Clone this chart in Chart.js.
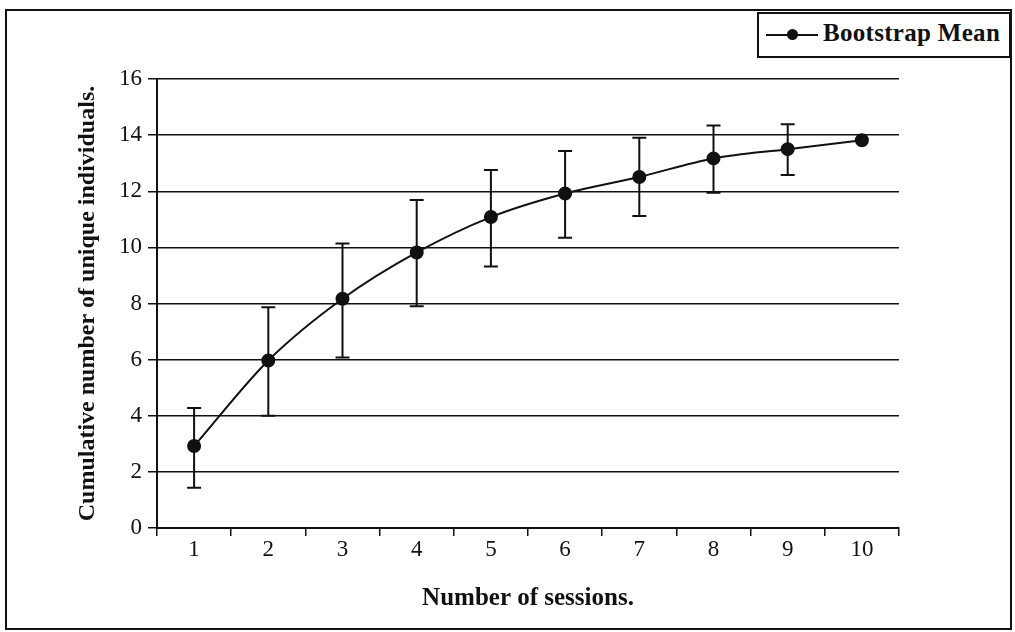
<!DOCTYPE html>
<html>
<head>
<meta charset="utf-8">
<script src="https://cdn.jsdelivr.net/npm/chart.js@4/dist/chart.umd.min.js"></script>
<style>
  body { margin: 0; background: #fff; }
  #wrap { position: relative; width: 1015px; height: 632px; }
  #chart { position: absolute; left: 0; top: 0; }
  #frame { position: absolute; left: 5px; top: 9px; width: 1003px; height: 617px; border: 2px solid #111; pointer-events: none; }
  #legend { position: absolute; left: 757px; top: 12px; width: 250px; height: 42px; border: 2px solid #111; background: #fff;
            font-family: "Liberation Serif", serif; font-weight: bold; font-size: 25px; color: #111; }
  #legend .sym { position: absolute; left: 7px; top: 20px; width: 52px; height: 2px; background: #111; }
  #legend .dot { position: absolute; left: 21px; top: -5px; width: 11px; height: 11px; border-radius: 50%; background: #111; }
  #legend .txt { position: absolute; left: 64px; top: 5px; white-space: nowrap; letter-spacing: 0.3px; }
</style>
</head>
<body>
<div id="wrap">
  <canvas id="chart" width="1015" height="632"></canvas>
  <div id="frame"></div>
  <div id="legend"><div class="sym"><div class="dot"></div></div><div class="txt">Bootstrap Mean</div></div>
</div>
<script>
// values
const sessions = ['1', '2', '3', '4', '5', '6', '7', '8', '9', '10'];
const bootMean = [2.92, 5.97, 8.17, 9.82, 11.08, 11.92, 12.51, 13.17, 13.5, 13.82];
const errHigh  = [4.28, 7.87, 10.14, 11.69, 12.76, 13.43, 13.91, 14.34, 14.39, null];
const errLow   = [1.43, 4.0, 6.08, 7.9, 9.32, 10.34, 11.12, 11.95, 12.58, null];

const ink = '#111';
const serif = '"Liberation Serif", "Times New Roman", serif';

// draws the vertical error bars with caps
const errorBars = {
  id: 'errorBars',
  afterDatasetsDraw(chart) {
    const ctx = chart.ctx;
    const xs = chart.scales.x, ys = chart.scales.y;
    ctx.save();
    ctx.strokeStyle = ink;
    ctx.lineWidth = 2;
    for (let i = 0; i < sessions.length; i++) {
      if (errHigh[i] == null) continue;
      const x = xs.getPixelForValue(i);
      const top = ys.getPixelForValue(errHigh[i]);
      const bot = ys.getPixelForValue(errLow[i]);
      ctx.beginPath();
      ctx.moveTo(x, top); ctx.lineTo(x, bot);
      ctx.moveTo(x - 7, top); ctx.lineTo(x + 7, top);
      ctx.moveTo(x - 7, bot); ctx.lineTo(x + 7, bot);
      ctx.stroke();
    }
    ctx.restore();
  }
};

new Chart(document.getElementById('chart'), {
  type: 'line',
  data: {
    labels: sessions,
    datasets: [{
      label: 'Bootstrap Mean',
      data: bootMean,
      borderColor: ink,
      backgroundColor: ink,
      borderWidth: 2,
      pointRadius: 6,
      pointBackgroundColor: ink,
      cubicInterpolationMode: 'monotone'
    }]
  },
  options: {
    responsive: false,
    animation: false,
    layout: { padding: { left: 73, top: 79, right: 116, bottom: 18 } },
    plugins: { legend: { display: false }, tooltip: { enabled: false } },
    scales: {
      x: {
        offset: true,
        grid: { offset: true, drawOnChartArea: false, drawTicks: true, tickLength: 8, color: ink, lineWidth: 1.5 },
        border: { color: ink, width: 2 },
        ticks: { color: ink, font: { family: serif, size: 23 }, padding: 0, maxRotation: 0 },
        title: { display: true, text: 'Number of sessions.', color: ink, font: { family: serif, size: 25, weight: 'bold' }, padding: 0 },
        afterFit(s) { s.height = 86; }
      },
      y: {
        min: 0, max: 16,
        ticks: { stepSize: 2, color: ink, font: { family: serif, size: 23 }, padding: 6 },
        grid: { color: ink, lineWidth: 1.5, drawTicks: true, tickLength: 9 },
        border: { color: ink, width: 2 },
        title: { display: true, text: 'Cumulative number of unique individuals.', color: ink, font: { family: serif, size: 24, weight: 'bold' }, padding: 0 },
        afterFit(s) { s.width = 84; }
      }
    }
  },
  plugins: [errorBars]
});
</script>
</body>
</html>
